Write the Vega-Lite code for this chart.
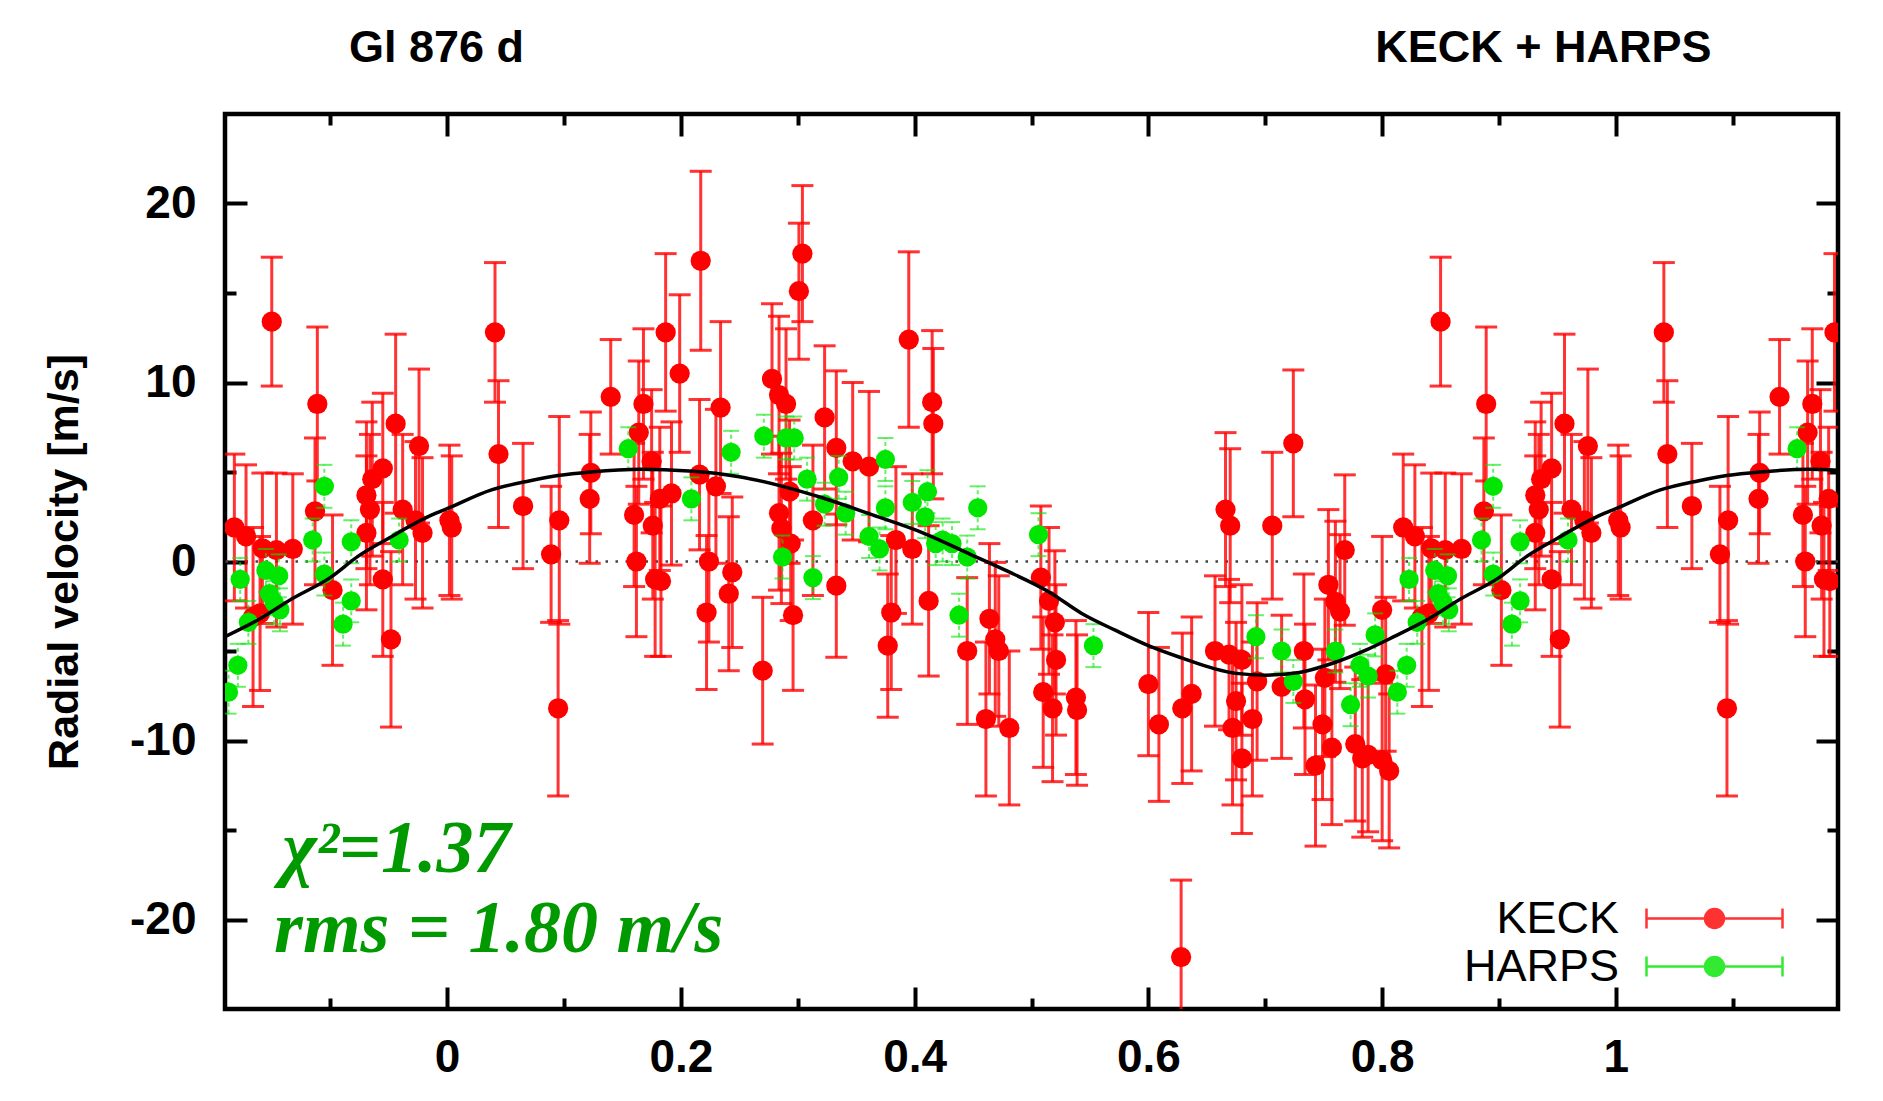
{
  "$schema": "https://vega.github.io/schema/vega-lite/v6.json",
  "width": 1613,
  "height": 895,
  "autosize": {"type": "none"},
  "padding": {"left": 225, "top": 114, "right": 45, "bottom": 92},
  "background": "white",
  "config": {
    "view": {"stroke": "black", "strokeWidth": 4.5},
    "axis": {
      "grid": false, "domain": false,
      "tickColor": "black", "tickWidth": 4,
      "labelColor": "black", "labelFont": "Liberation Sans", "labelFontWeight": "bold", "labelFontSize": 46,
      "titleColor": "black", "titleFont": "Liberation Sans", "titleFontWeight": "bold", "titleFontSize": 43,
      "labelOverlap": false, "labelFlush": false
    }
  },
  "datasets": {
    "keck": [
      {"phase":0.002,"rv":2.3,"err":4.2,"inst":"KECK"},{"phase":0.004,"rv":1.9,"err":4.0,"inst":"KECK"},{"phase":0.041,"rv":12.8,"err":3.9,"inst":"KECK"},{"phase":0.044,"rv":6.0,"err":4.1,"inst":"KECK"},{"phase":0.065,"rv":3.1,"err":3.5,"inst":"KECK"},{"phase":0.089,"rv":0.4,"err":3.8,"inst":"KECK"},{"phase":0.095,"rv":-8.2,"err":4.9,"inst":"KECK"},{"phase":0.096,"rv":2.3,"err":5.8,"inst":"KECK"},{"phase":0.122,"rv":3.5,"err":3.6,"inst":"KECK"},{"phase":0.123,"rv":4.95,"err":3.4,"inst":"KECK"},{"phase":0.14,"rv":9.2,"err":3.2,"inst":"KECK"},{"phase":0.16,"rv":2.6,"err":4.0,"inst":"KECK"},{"phase":0.162,"rv":0.0,"err":4.2,"inst":"KECK"},{"phase":0.164,"rv":7.2,"err":4.0,"inst":"KECK"},{"phase":0.168,"rv":8.8,"err":4.2,"inst":"KECK"},{"phase":0.175,"rv":5.6,"err":4.0,"inst":"KECK"},{"phase":0.176,"rv":2.0,"err":4.1,"inst":"KECK"},{"phase":0.178,"rv":-1.0,"err":4.3,"inst":"KECK"},{"phase":0.182,"rv":3.5,"err":4.0,"inst":"KECK"},{"phase":0.183,"rv":-1.1,"err":4.2,"inst":"KECK"},{"phase":0.187,"rv":12.8,"err":4.4,"inst":"KECK"},{"phase":0.192,"rv":3.8,"err":4.0,"inst":"KECK"},{"phase":0.199,"rv":10.5,"err":4.4,"inst":"KECK"},
      {"phase":0.216,"rv":4.85,"err":4.2,"inst":"KECK"},{"phase":0.217,"rv":16.8,"err":5.0,"inst":"KECK"},{"phase":0.222,"rv":-2.85,"err":4.3,"inst":"KECK"},{"phase":0.224,"rv":0.0,"err":4.5,"inst":"KECK"},{"phase":0.23,"rv":4.2,"err":4.3,"inst":"KECK"},{"phase":0.234,"rv":8.6,"err":4.8,"inst":"KECK"},{"phase":0.241,"rv":-1.8,"err":4.3,"inst":"KECK"},{"phase":0.244,"rv":-0.6,"err":4.2,"inst":"KECK"},{"phase":0.27,"rv":-6.1,"err":4.1,"inst":"KECK"},{"phase":0.278,"rv":10.2,"err":4.2,"inst":"KECK"},{"phase":0.284,"rv":9.3,"err":4.4,"inst":"KECK"},{"phase":0.284,"rv":2.7,"err":4.3,"inst":"KECK"},{"phase":0.286,"rv":1.85,"err":4.2,"inst":"KECK"},{"phase":0.29,"rv":8.8,"err":4.2,"inst":"KECK"},{"phase":0.293,"rv":3.9,"err":4.0,"inst":"KECK"},{"phase":0.294,"rv":1.0,"err":4.3,"inst":"KECK"},{"phase":0.296,"rv":-3.0,"err":4.2,"inst":"KECK"},{"phase":0.301,"rv":15.1,"err":3.8,"inst":"KECK"},{"phase":0.304,"rv":17.2,"err":3.8,"inst":"KECK"},{"phase":0.313,"rv":2.3,"err":4.2,"inst":"KECK"},{"phase":0.323,"rv":8.05,"err":4.0,"inst":"KECK"},{"phase":0.333,"rv":6.35,"err":4.3,"inst":"KECK"},{"phase":0.333,"rv":-1.35,"err":4.0,"inst":"KECK"},{"phase":0.347,"rv":5.6,"err":4.4,"inst":"KECK"},{"phase":0.361,"rv":5.3,"err":4.2,"inst":"KECK"},{"phase":0.377,"rv":-4.7,"err":4.0,"inst":"KECK"},{"phase":0.38,"rv":-2.85,"err":4.3,"inst":"KECK"},{"phase":0.384,"rv":1.2,"err":4.1,"inst":"KECK"},{"phase":0.395,"rv":12.4,"err":4.9,"inst":"KECK"},{"phase":0.398,"rv":0.7,"err":4.2,"inst":"KECK"},{"phase":0.412,"rv":-2.2,"err":4.2,"inst":"KECK"},{"phase":0.415,"rv":8.9,"err":4.0,"inst":"KECK"},{"phase":0.416,"rv":7.7,"err":4.2,"inst":"KECK"},{"phase":0.445,"rv":-5.0,"err":4.1,"inst":"KECK"},{"phase":0.461,"rv":-8.8,"err":4.3,"inst":"KECK"},{"phase":0.464,"rv":-3.2,"err":4.2,"inst":"KECK"},{"phase":0.469,"rv":-4.35,"err":4.3,"inst":"KECK"},{"phase":0.472,"rv":-5.0,"err":4.2,"inst":"KECK"},{"phase":0.481,"rv":-9.3,"err":4.3,"inst":"KECK"},{"phase":0.508,"rv":-0.9,"err":4.0,"inst":"KECK"},{"phase":0.51,"rv":-7.3,"err":4.2,"inst":"KECK"},{"phase":0.515,"rv":-2.2,"err":4.1,"inst":"KECK"},{"phase":0.518,"rv":-8.2,"err":4.1,"inst":"KECK"},{"phase":0.52,"rv":-3.4,"err":4.0,"inst":"KECK"},{"phase":0.521,"rv":-5.5,"err":4.2,"inst":"KECK"},
      {"phase":0.538,"rv":-7.6,"err":4.3,"inst":"KECK"},{"phase":0.539,"rv":-8.3,"err":4.2,"inst":"KECK"},{"phase":0.6,"rv":-6.85,"err":4.0,"inst":"KECK"},{"phase":0.609,"rv":-9.1,"err":4.3,"inst":"KECK"},{"phase":0.628,"rv":-22.1,"err":4.3,"inst":"KECK"},{"phase":0.629,"rv":-8.2,"err":4.2,"inst":"KECK"},{"phase":0.637,"rv":-7.4,"err":4.3,"inst":"KECK"},{"phase":0.657,"rv":-5.0,"err":4.2,"inst":"KECK"},{"phase":0.666,"rv":2.9,"err":4.3,"inst":"KECK"},{"phase":0.669,"rv":-5.2,"err":4.2,"inst":"KECK"},{"phase":0.67,"rv":2.0,"err":4.3,"inst":"KECK"},{"phase":0.672,"rv":-9.3,"err":4.3,"inst":"KECK"},{"phase":0.675,"rv":-7.8,"err":4.4,"inst":"KECK"},{"phase":0.68,"rv":-5.5,"err":4.2,"inst":"KECK"},{"phase":0.68,"rv":-11.0,"err":4.2,"inst":"KECK"},{"phase":0.689,"rv":-8.8,"err":4.3,"inst":"KECK"},{"phase":0.693,"rv":-6.7,"err":4.4,"inst":"KECK"},{"phase":0.706,"rv":2.0,"err":4.1,"inst":"KECK"},{"phase":0.714,"rv":-7.0,"err":4.0,"inst":"KECK"},{"phase":0.724,"rv":6.6,"err":4.1,"inst":"KECK"},{"phase":0.733,"rv":-5.0,"err":4.3,"inst":"KECK"},{"phase":0.734,"rv":-7.7,"err":4.2,"inst":"KECK"},{"phase":0.743,"rv":-11.4,"err":4.5,"inst":"KECK"},{"phase":0.749,"rv":-9.1,"err":4.2,"inst":"KECK"},{"phase":0.751,"rv":-6.5,"err":4.4,"inst":"KECK"},{"phase":0.754,"rv":-1.3,"err":4.2,"inst":"KECK"},{"phase":0.757,"rv":-10.4,"err":4.3,"inst":"KECK"},{"phase":0.76,"rv":-2.25,"err":4.5,"inst":"KECK"},{"phase":0.764,"rv":-2.8,"err":4.3,"inst":"KECK"},{"phase":0.768,"rv":0.64,"err":4.2,"inst":"KECK"},{"phase":0.777,"rv":-10.2,"err":4.3,"inst":"KECK"},{"phase":0.783,"rv":-11.0,"err":4.4,"inst":"KECK"},{"phase":0.788,"rv":-10.8,"err":4.3,"inst":"KECK"},{"phase":0.8,"rv":-2.7,"err":4.1,"inst":"KECK"},{"phase":0.8,"rv":-11.1,"err":4.5,"inst":"KECK"},{"phase":0.803,"rv":-6.3,"err":4.3,"inst":"KECK"},{"phase":0.806,"rv":-11.7,"err":4.3,"inst":"KECK"},
      {"phase":0.818,"rv":1.9,"err":4.1,"inst":"KECK"},{"phase":0.828,"rv":1.4,"err":4.0,"inst":"KECK"},{"phase":0.834,"rv":-3.1,"err":5.0,"inst":"KECK"},{"phase":0.84,"rv":-2.9,"err":4.3,"inst":"KECK"},{"phase":0.842,"rv":0.74,"err":4.2,"inst":"KECK"},{"phase":0.85,"rv":13.4,"err":3.6,"inst":"KECK"},{"phase":0.854,"rv":0.64,"err":4.3,"inst":"KECK"},{"phase":0.868,"rv":0.7,"err":4.2,"inst":"KECK"},{"phase":0.887,"rv":2.8,"err":4.1,"inst":"KECK"},{"phase":0.889,"rv":8.8,"err":4.3,"inst":"KECK"},{"phase":0.902,"rv":-1.6,"err":4.2,"inst":"KECK"},{"phase":0.931,"rv":3.7,"err":4.1,"inst":"KECK"},{"phase":0.931,"rv":1.6,"err":4.3,"inst":"KECK"},{"phase":0.934,"rv":2.9,"err":4.2,"inst":"KECK"},{"phase":0.936,"rv":4.6,"err":4.3,"inst":"KECK"},{"phase":0.945,"rv":5.2,"err":4.2,"inst":"KECK"},{"phase":0.945,"rv":-1.0,"err":4.3,"inst":"KECK"},{"phase":0.952,"rv":-4.35,"err":4.9,"inst":"KECK"},{"phase":0.956,"rv":7.7,"err":5.0,"inst":"KECK"},{"phase":0.962,"rv":2.9,"err":4.2,"inst":"KECK"},{"phase":0.973,"rv":2.3,"err":4.4,"inst":"KECK"},{"phase":0.976,"rv":6.45,"err":4.3,"inst":"KECK"},{"phase":0.979,"rv":1.6,"err":4.2,"inst":"KECK"},
      {"phase":1.002,"rv":2.3,"err":4.2,"inst":"KECK"},{"phase":1.004,"rv":1.9,"err":4.0,"inst":"KECK"},{"phase":1.041,"rv":12.8,"err":3.9,"inst":"KECK"},{"phase":1.044,"rv":6.0,"err":4.1,"inst":"KECK"},{"phase":1.065,"rv":3.1,"err":3.5,"inst":"KECK"},{"phase":1.089,"rv":0.4,"err":3.8,"inst":"KECK"},{"phase":1.095,"rv":-8.2,"err":4.9,"inst":"KECK"},{"phase":1.096,"rv":2.3,"err":5.8,"inst":"KECK"},{"phase":1.122,"rv":3.5,"err":3.6,"inst":"KECK"},{"phase":1.123,"rv":4.95,"err":3.4,"inst":"KECK"},{"phase":1.14,"rv":9.2,"err":3.2,"inst":"KECK"},{"phase":1.16,"rv":2.6,"err":4.0,"inst":"KECK"},{"phase":1.162,"rv":0.0,"err":4.2,"inst":"KECK"},{"phase":1.164,"rv":7.2,"err":4.0,"inst":"KECK"},{"phase":1.168,"rv":8.8,"err":4.2,"inst":"KECK"},{"phase":1.175,"rv":5.6,"err":4.0,"inst":"KECK"},{"phase":1.176,"rv":2.0,"err":4.1,"inst":"KECK"},{"phase":1.178,"rv":-1.0,"err":4.3,"inst":"KECK"},{"phase":1.182,"rv":3.5,"err":4.0,"inst":"KECK"},{"phase":1.183,"rv":-1.1,"err":4.2,"inst":"KECK"},{"phase":1.187,"rv":12.8,"err":4.4,"inst":"KECK"},
      {"phase":-0.182,"rv":1.9,"err":4.1,"inst":"KECK"},{"phase":-0.172,"rv":1.4,"err":4.0,"inst":"KECK"},{"phase":-0.166,"rv":-3.1,"err":5.0,"inst":"KECK"},{"phase":-0.16,"rv":-2.9,"err":4.3,"inst":"KECK"},{"phase":-0.158,"rv":0.74,"err":4.2,"inst":"KECK"},{"phase":-0.15,"rv":13.4,"err":3.6,"inst":"KECK"},{"phase":-0.146,"rv":0.64,"err":4.3,"inst":"KECK"},{"phase":-0.132,"rv":0.7,"err":4.2,"inst":"KECK"},{"phase":-0.113,"rv":2.8,"err":4.1,"inst":"KECK"},{"phase":-0.111,"rv":8.8,"err":4.3,"inst":"KECK"},{"phase":-0.098,"rv":-1.6,"err":4.2,"inst":"KECK"},{"phase":-0.069,"rv":3.7,"err":4.1,"inst":"KECK"},{"phase":-0.069,"rv":1.6,"err":4.3,"inst":"KECK"},{"phase":-0.066,"rv":2.9,"err":4.2,"inst":"KECK"},{"phase":-0.064,"rv":4.6,"err":4.3,"inst":"KECK"},{"phase":-0.055,"rv":5.2,"err":4.2,"inst":"KECK"},{"phase":-0.055,"rv":-1.0,"err":4.3,"inst":"KECK"},{"phase":-0.048,"rv":-4.35,"err":4.9,"inst":"KECK"},{"phase":-0.044,"rv":7.7,"err":5.0,"inst":"KECK"},{"phase":-0.038,"rv":2.9,"err":4.2,"inst":"KECK"},{"phase":-0.027,"rv":2.3,"err":4.4,"inst":"KECK"},{"phase":-0.024,"rv":6.45,"err":4.3,"inst":"KECK"},{"phase":-0.021,"rv":1.6,"err":4.2,"inst":"KECK"}
    ],
    "harps": [
      {"phase":0.155,"rv":6.3,"err":1.2,"inst":"HARPS"},{"phase":0.209,"rv":3.5,"err":1.2,"inst":"HARPS"},{"phase":0.243,"rv":6.1,"err":1.2,"inst":"HARPS"},{"phase":0.271,"rv":7.0,"err":1.2,"inst":"HARPS"},{"phase":0.287,"rv":0.25,"err":1.2,"inst":"HARPS"},{"phase":0.29,"rv":6.9,"err":1.2,"inst":"HARPS"},{"phase":0.297,"rv":6.9,"err":1.2,"inst":"HARPS"},{"phase":0.308,"rv":4.6,"err":1.2,"inst":"HARPS"},{"phase":0.313,"rv":-0.9,"err":1.2,"inst":"HARPS"},{"phase":0.323,"rv":3.2,"err":1.2,"inst":"HARPS"},{"phase":0.335,"rv":4.7,"err":1.2,"inst":"HARPS"},{"phase":0.341,"rv":2.7,"err":1.2,"inst":"HARPS"},{"phase":0.361,"rv":1.4,"err":1.2,"inst":"HARPS"},{"phase":0.37,"rv":0.7,"err":1.2,"inst":"HARPS"},{"phase":0.375,"rv":5.7,"err":1.2,"inst":"HARPS"},{"phase":0.375,"rv":3.0,"err":1.2,"inst":"HARPS"},{"phase":0.398,"rv":3.3,"err":1.2,"inst":"HARPS"},{"phase":0.409,"rv":2.5,"err":1.2,"inst":"HARPS"},{"phase":0.411,"rv":3.9,"err":1.2,"inst":"HARPS"},{"phase":0.418,"rv":1.0,"err":1.2,"inst":"HARPS"},{"phase":0.424,"rv":1.2,"err":1.2,"inst":"HARPS"},{"phase":0.432,"rv":1.0,"err":1.2,"inst":"HARPS"},{"phase":0.438,"rv":-3.0,"err":1.2,"inst":"HARPS"},{"phase":0.445,"rv":0.25,"err":1.2,"inst":"HARPS"},{"phase":0.454,"rv":3.0,"err":1.2,"inst":"HARPS"},{"phase":0.506,"rv":1.5,"err":1.2,"inst":"HARPS"},{"phase":0.553,"rv":-4.7,"err":1.2,"inst":"HARPS"},{"phase":0.692,"rv":-4.2,"err":1.2,"inst":"HARPS"},{"phase":0.714,"rv":-5.0,"err":1.2,"inst":"HARPS"},{"phase":0.724,"rv":-6.7,"err":1.2,"inst":"HARPS"},{"phase":0.76,"rv":-5.0,"err":1.2,"inst":"HARPS"},{"phase":0.773,"rv":-8.0,"err":1.2,"inst":"HARPS"},{"phase":0.781,"rv":-5.8,"err":1.2,"inst":"HARPS"},{"phase":0.788,"rv":-6.4,"err":1.2,"inst":"HARPS"},{"phase":0.794,"rv":-4.1,"err":1.2,"inst":"HARPS"},{"phase":0.813,"rv":-7.3,"err":1.2,"inst":"HARPS"},{"phase":0.821,"rv":-5.8,"err":1.2,"inst":"HARPS"},{"phase":0.823,"rv":-1.0,"err":1.2,"inst":"HARPS"},{"phase":0.83,"rv":-3.4,"err":1.2,"inst":"HARPS"},{"phase":0.845,"rv":-0.5,"err":1.2,"inst":"HARPS"},{"phase":0.848,"rv":-1.8,"err":1.2,"inst":"HARPS"},{"phase":0.852,"rv":-2.3,"err":1.2,"inst":"HARPS"},{"phase":0.856,"rv":-0.8,"err":1.2,"inst":"HARPS"},{"phase":0.857,"rv":-2.7,"err":1.2,"inst":"HARPS"},{"phase":0.885,"rv":1.2,"err":1.2,"inst":"HARPS"},{"phase":0.895,"rv":4.2,"err":1.2,"inst":"HARPS"},{"phase":0.895,"rv":-0.7,"err":1.2,"inst":"HARPS"},{"phase":0.911,"rv":-3.5,"err":1.2,"inst":"HARPS"},{"phase":0.918,"rv":1.1,"err":1.2,"inst":"HARPS"},{"phase":0.918,"rv":-2.2,"err":1.2,"inst":"HARPS"},{"phase":0.959,"rv":1.2,"err":1.2,"inst":"HARPS"},
      {"phase":1.155,"rv":6.3,"err":1.2,"inst":"HARPS"},
      {"phase":-0.187,"rv":-7.3,"err":1.2,"inst":"HARPS"},{"phase":-0.179,"rv":-5.8,"err":1.2,"inst":"HARPS"},{"phase":-0.177,"rv":-1.0,"err":1.2,"inst":"HARPS"},{"phase":-0.17,"rv":-3.4,"err":1.2,"inst":"HARPS"},{"phase":-0.155,"rv":-0.5,"err":1.2,"inst":"HARPS"},{"phase":-0.152,"rv":-1.8,"err":1.2,"inst":"HARPS"},{"phase":-0.148,"rv":-2.3,"err":1.2,"inst":"HARPS"},{"phase":-0.144,"rv":-0.8,"err":1.2,"inst":"HARPS"},{"phase":-0.143,"rv":-2.7,"err":1.2,"inst":"HARPS"},{"phase":-0.115,"rv":1.2,"err":1.2,"inst":"HARPS"},{"phase":-0.105,"rv":4.2,"err":1.2,"inst":"HARPS"},{"phase":-0.105,"rv":-0.7,"err":1.2,"inst":"HARPS"},{"phase":-0.089,"rv":-3.5,"err":1.2,"inst":"HARPS"},{"phase":-0.082,"rv":1.1,"err":1.2,"inst":"HARPS"},{"phase":-0.082,"rv":-2.2,"err":1.2,"inst":"HARPS"},{"phase":-0.041,"rv":1.2,"err":1.2,"inst":"HARPS"}
    ],
    "fit": [
      {"phase":-0.19,"rv":-4.2},{"phase":-0.16,"rv":-3.2},{"phase":-0.133,"rv":-2.1},{"phase":-0.1,"rv":-0.9},{"phase":-0.076,"rv":0.3},{"phase":-0.05,"rv":1.3},{"phase":-0.013,"rv":2.6},{"phase":0.0,"rv":2.95},{"phase":0.038,"rv":4.0},{"phase":0.07,"rv":4.5},{"phase":0.095,"rv":4.8},{"phase":0.123,"rv":5.0},{"phase":0.165,"rv":5.15},{"phase":0.207,"rv":5.06},{"phase":0.25,"rv":4.74},{"phase":0.287,"rv":4.2},{"phase":0.321,"rv":3.56},{"phase":0.364,"rv":2.6},{"phase":0.407,"rv":1.6},{"phase":0.449,"rv":0.36},{"phase":0.478,"rv":-0.5},{"phase":0.515,"rv":-1.7},{"phase":0.543,"rv":-2.9},{"phase":0.572,"rv":-3.85},{"phase":0.6,"rv":-4.7},{"phase":0.629,"rv":-5.4},{"phase":0.657,"rv":-6.0},{"phase":0.675,"rv":-6.25},{"phase":0.7,"rv":-6.35},{"phase":0.729,"rv":-6.2},{"phase":0.757,"rv":-5.7},{"phase":0.786,"rv":-4.95},{"phase":0.81,"rv":-4.2},{"phase":0.84,"rv":-3.2},{"phase":0.867,"rv":-2.1},{"phase":0.9,"rv":-0.9},{"phase":0.924,"rv":0.3},{"phase":0.95,"rv":1.3},{"phase":0.987,"rv":2.6},{"phase":1.0,"rv":2.95},{"phase":1.038,"rv":4.0},{"phase":1.07,"rv":4.5},{"phase":1.095,"rv":4.8},{"phase":1.123,"rv":5.0},{"phase":1.165,"rv":5.15},{"phase":1.19,"rv":5.1}
    ],
    "one": [{}]
  },
  "resolve": {"axis": {"x": "independent", "y": "independent"}},
  "layer": [
    {
      "data": {"name": "one"},
      "mark": {"type": "rule", "color": "#444444", "strokeWidth": 2.5, "strokeDash": [2.5, 7.5]},
      "encoding": {
        "y": {"datum": 0, "type": "quantitative", "scale": {"domain": [-25, 25], "nice": false, "zero": false}, "axis": null}
      }
    },
    {
      "data": {"name": "keck"},
      "mark": {"type": "errorbar", "ticks": {"size": 22}, "thickness": 3, "opacity": 0.8, "clip": true},
      "encoding": {
        "x": {"field": "phase", "type": "quantitative", "scale": {"domain": [-0.19, 1.19], "nice": false, "zero": false},
              "axis": {"orient": "bottom", "values": [0, 0.2, 0.4, 0.6, 0.8, 1], "labels": false, "tickSize": -22, "title": null}},
        "y": {"field": "rv", "type": "quantitative", "scale": {"domain": [-25, 25], "nice": false, "zero": false},
              "axis": {"orient": "left", "values": [-20, -10, 0, 10, 20], "labels": false, "tickSize": -22, "title": null}},
        "yError": {"field": "err"},
        "color": {"field": "inst", "type": "nominal", "scale": {"domain": ["KECK", "HARPS"], "range": ["#ff0000", "#00e600"]}}
      }
    },
    {
      "data": {"name": "keck"},
      "mark": {"type": "point", "filled": true, "size": 410, "opacity": 1, "strokeWidth": 0, "clip": true},
      "encoding": {
        "x": {"field": "phase", "type": "quantitative", "scale": {"domain": [-0.19, 1.19], "nice": false, "zero": false},
              "axis": {"orient": "bottom", "values": [0, 0.2, 0.4, 0.6, 0.8, 1], "ticks": false, "labelPadding": 26, "labelExpr": "'' + datum.value", "title": null}},
        "y": {"field": "rv", "type": "quantitative", "scale": {"domain": [-25, 25], "nice": false, "zero": false},
              "axis": {"orient": "left", "values": [-20, -10, 0, 10, 20], "ticks": false, "labelPadding": 29, "labelExpr": "'' + datum.value", "title": "Radial velocity [m/s]", "titlePadding": 43}},
        "color": {"field": "inst", "type": "nominal", "scale": {"domain": ["KECK", "HARPS"], "range": ["#ff0000", "#00e600"]},
                  "legend": {
                    "orient": "none", "legendX": 1467, "legendY": 782, "title": null, "padding": 0, "rowPadding": 2,
                    "symbolType": "M-6.8,0L6.8,0M-6.8,-1L-6.8,1M6.8,-1L6.8,1M0.95,0A0.95,0.95,0,1,1,-0.95,0A0.95,0.95,0,1,1,0.95,0Z",
                    "symbolSize": 400, "symbolStrokeWidth": 2.5,
                    "labelFont": "Liberation Sans", "labelFontSize": 45, "labelColor": "black", "labelAlign": "right", "labelOffset": -118, "labelLimit": 0,
                    "encode": {"symbols": {"update": {
                      "fill": {"scale": "color", "field": "value"},
                      "stroke": {"scale": "color", "field": "value"},
                      "strokeOpacity": {"value": 0.45},
                      "opacity": {"value": 1},
                      "strokeDash": {"signal": "datum.value === 'HARPS' ? [5, 5] : [1, 0]"}
                    }}}
                  }}
      }
    },
    {
      "data": {"name": "harps"},
      "mark": {"type": "errorbar", "ticks": {"size": 16}, "thickness": 2, "opacity": 0.6, "rule": {"strokeDash": [4, 3]}, "clip": true},
      "encoding": {
        "x": {"field": "phase", "type": "quantitative", "scale": {"domain": [-0.19, 1.19], "nice": false, "zero": false},
              "axis": {"orient": "bottom", "values": [-0.1, 0.1, 0.3, 0.5, 0.7, 0.9, 1.1], "labels": false, "tickSize": -11, "title": null}},
        "y": {"field": "rv", "type": "quantitative", "scale": {"domain": [-25, 25], "nice": false, "zero": false},
              "axis": {"orient": "left", "values": [-15, -5, 5, 15], "labels": false, "tickSize": -11, "title": null}},
        "yError": {"field": "err"},
        "color": {"field": "inst", "type": "nominal", "scale": {"domain": ["KECK", "HARPS"], "range": ["#ff0000", "#00e600"]}}
      }
    },
    {
      "data": {"name": "harps"},
      "mark": {"type": "point", "filled": true, "size": 370, "opacity": 1, "strokeWidth": 0, "clip": true},
      "encoding": {
        "x": {"field": "phase", "type": "quantitative", "scale": {"domain": [-0.19, 1.19], "nice": false, "zero": false},
              "axis": {"orient": "top", "values": [0, 0.2, 0.4, 0.6, 0.8, 1], "labels": false, "tickSize": -22, "title": null}},
        "y": {"field": "rv", "type": "quantitative", "scale": {"domain": [-25, 25], "nice": false, "zero": false},
              "axis": {"orient": "right", "values": [-20, -10, 0, 10, 20], "labels": false, "tickSize": -22, "title": null}},
        "color": {"field": "inst", "type": "nominal", "scale": {"domain": ["KECK", "HARPS"], "range": ["#ff0000", "#00e600"]}}
      }
    },
    {
      "data": {"name": "fit"},
      "mark": {"type": "line", "color": "black", "strokeWidth": 3.5, "interpolate": "monotone", "clip": true},
      "encoding": {
        "x": {"field": "phase", "type": "quantitative", "scale": {"domain": [-0.19, 1.19], "nice": false, "zero": false},
              "axis": {"orient": "top", "values": [-0.1, 0.1, 0.3, 0.5, 0.7, 0.9, 1.1], "labels": false, "tickSize": -11, "title": null}},
        "y": {"field": "rv", "type": "quantitative", "scale": {"domain": [-25, 25], "nice": false, "zero": false},
              "axis": {"orient": "right", "values": [-15, -5, 5, 15], "labels": false, "tickSize": -11, "title": null}}
      }
    },
    {
      "data": {"name": "one"},
      "mark": {"type": "text", "font": "Liberation Sans", "fontWeight": "bold", "fontSize": 45, "color": "black", "align": "center", "baseline": "alphabetic"},
      "encoding": {
        "x": {"datum": -0.009, "type": "quantitative", "scale": {"domain": [-0.19, 1.19], "nice": false, "zero": false}, "axis": null},
        "y": {"datum": 27.9, "type": "quantitative", "scale": {"domain": [-25, 25], "nice": false, "zero": false}, "axis": null},
        "text": {"value": "Gl 876 d"}
      }
    },
    {
      "data": {"name": "one"},
      "mark": {"type": "text", "font": "Liberation Sans", "fontWeight": "bold", "fontSize": 45, "color": "black", "align": "center", "baseline": "alphabetic"},
      "encoding": {
        "x": {"datum": 0.938, "type": "quantitative", "scale": {"domain": [-0.19, 1.19], "nice": false, "zero": false}, "axis": null},
        "y": {"datum": 27.9, "type": "quantitative", "scale": {"domain": [-25, 25], "nice": false, "zero": false}, "axis": null},
        "text": {"value": "KECK + HARPS"}
      }
    },
    {
      "data": {"name": "one"},
      "mark": {"type": "text", "font": "Liberation Serif", "fontWeight": "bold", "fontStyle": "italic", "fontSize": 74, "color": "#009900", "align": "left", "baseline": "alphabetic"},
      "encoding": {
        "x": {"datum": -0.141, "type": "quantitative", "scale": {"domain": [-0.19, 1.19], "nice": false, "zero": false}, "axis": null},
        "y": {"datum": -17.37, "type": "quantitative", "scale": {"domain": [-25, 25], "nice": false, "zero": false}, "axis": null},
        "text": {"value": "χ²=1.37"}
      }
    },
    {
      "data": {"name": "one"},
      "mark": {"type": "text", "font": "Liberation Serif", "fontWeight": "bold", "fontStyle": "italic", "fontSize": 74, "color": "#009900", "align": "left", "baseline": "alphabetic"},
      "encoding": {
        "x": {"datum": -0.148, "type": "quantitative", "scale": {"domain": [-0.19, 1.19], "nice": false, "zero": false}, "axis": null},
        "y": {"datum": -21.8, "type": "quantitative", "scale": {"domain": [-25, 25], "nice": false, "zero": false}, "axis": null},
        "text": {"value": "rms = 1.80 m/s"}
      }
    }
  ]
}
